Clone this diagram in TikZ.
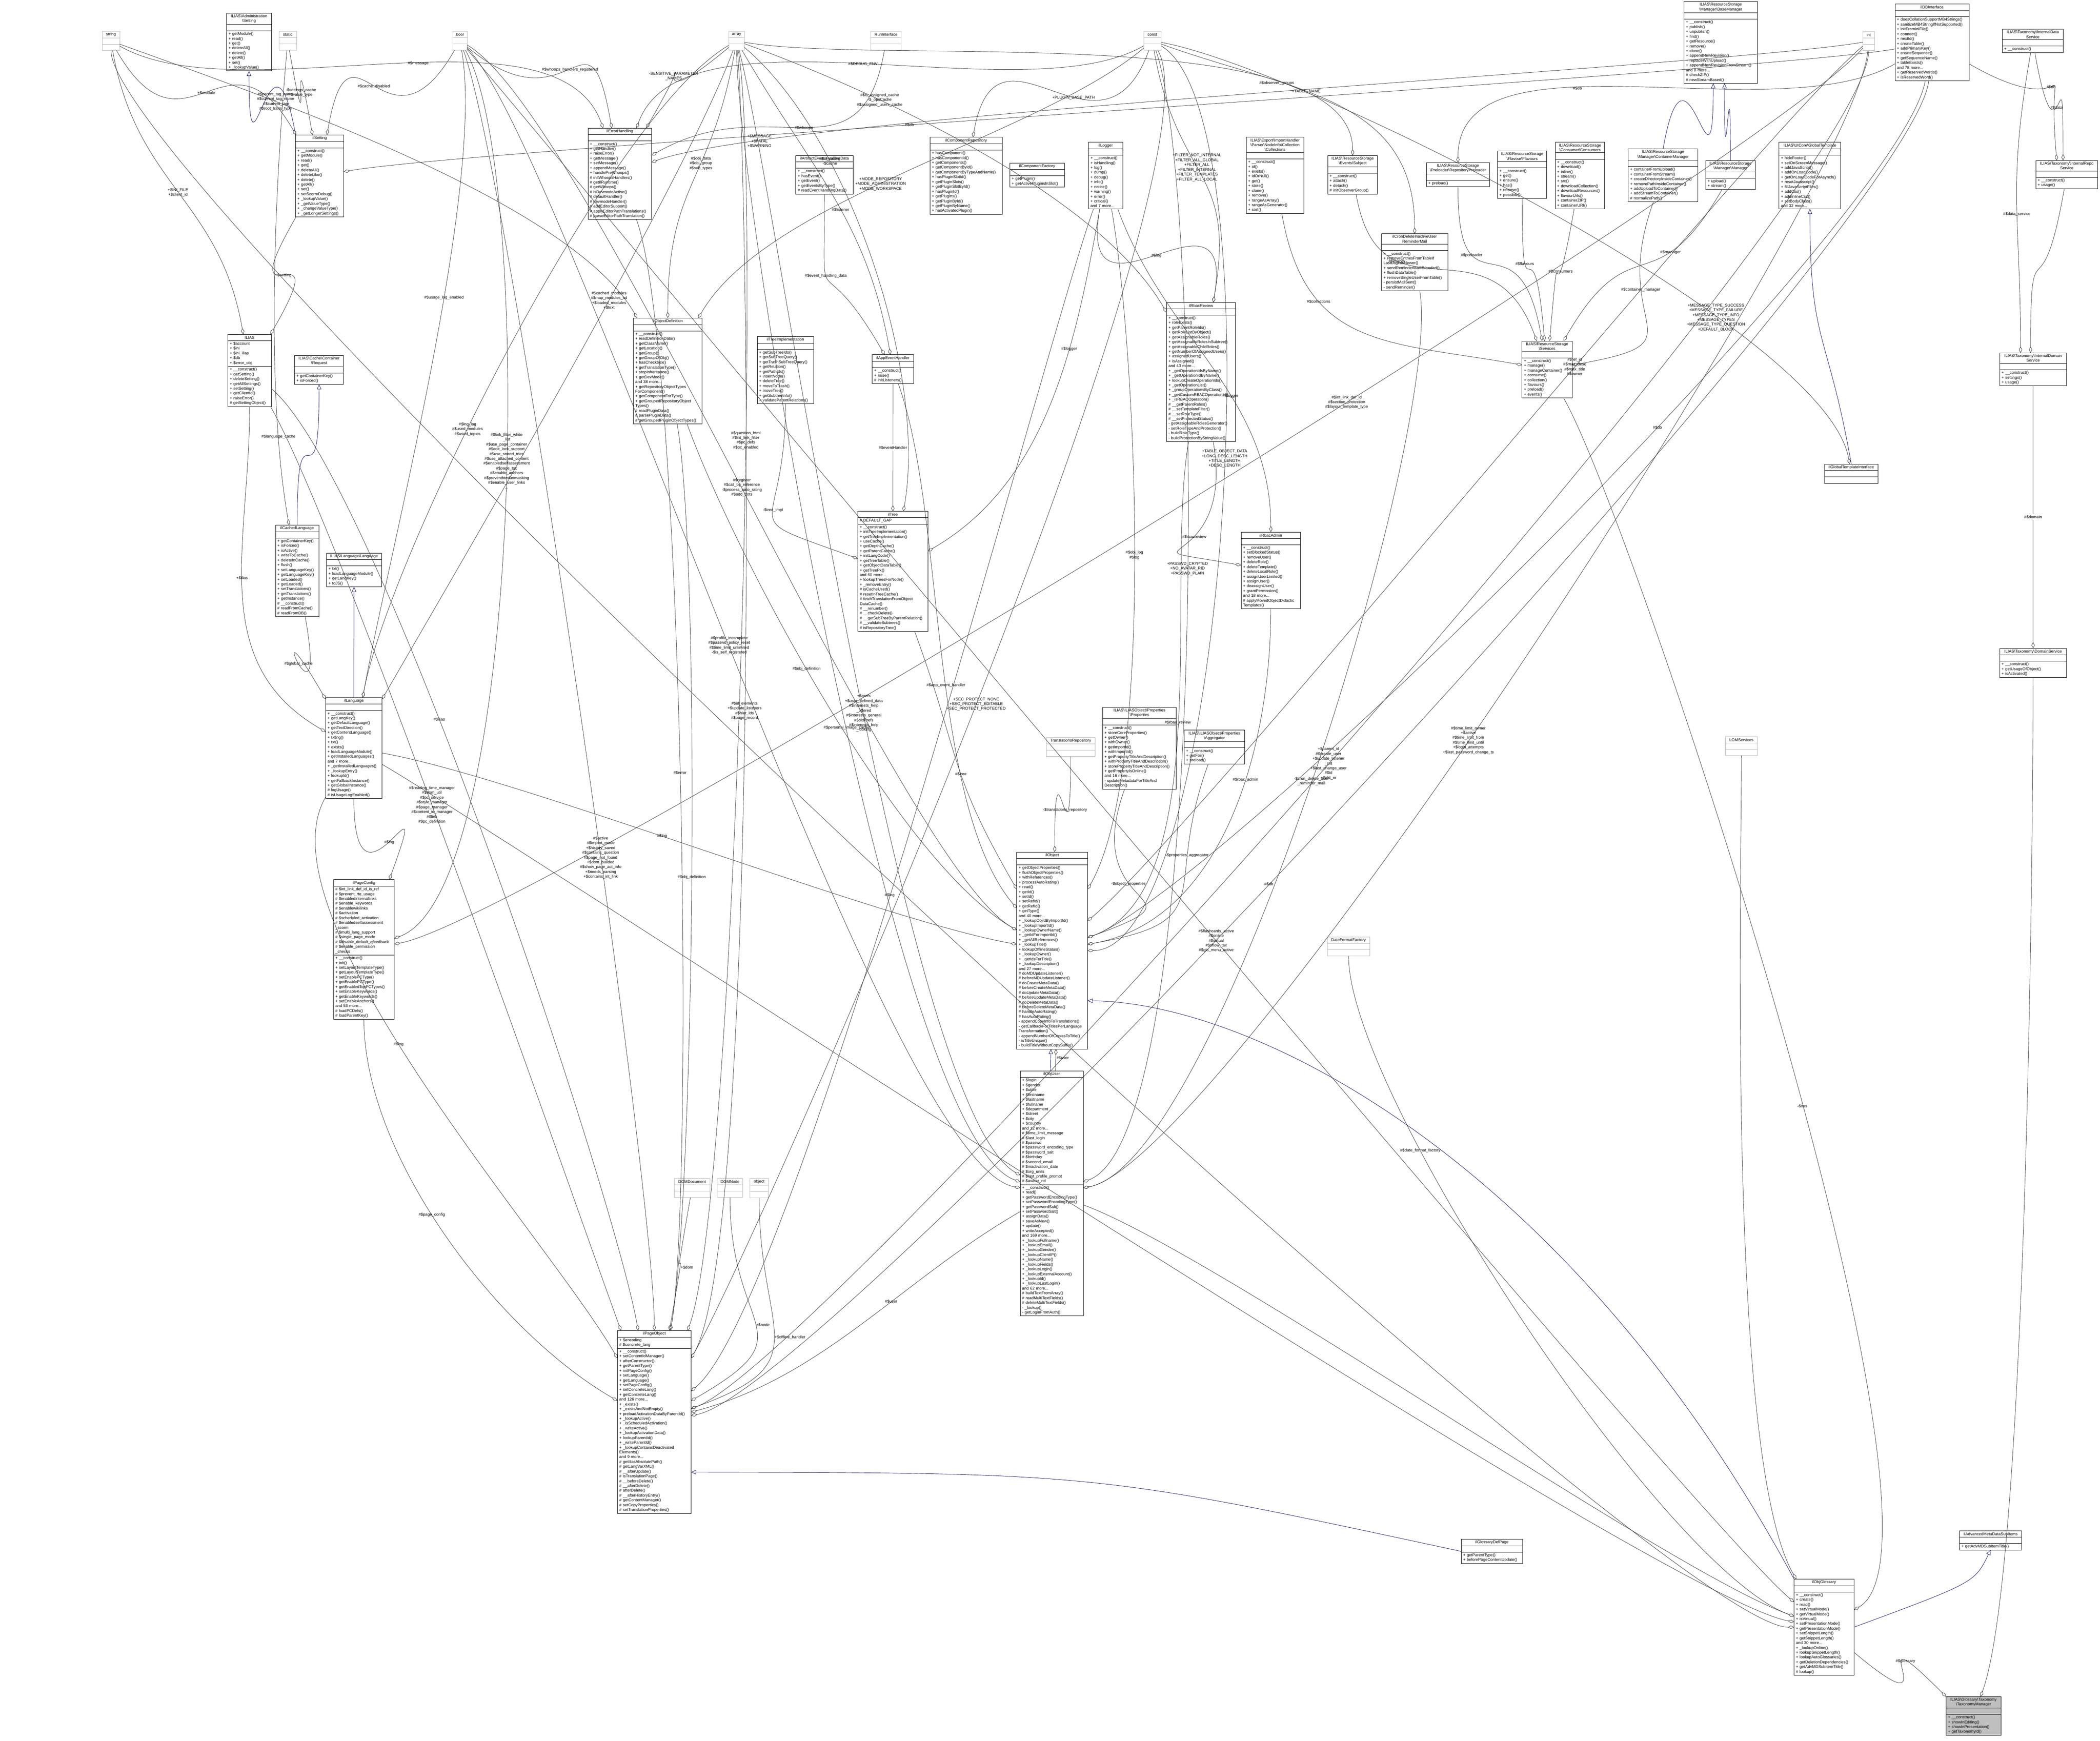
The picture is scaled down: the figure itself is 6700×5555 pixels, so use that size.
\documentclass[tikz,border=0pt]{standalone}
\usepackage{fontspec}
\setmainfont{Liberation Sans}
\usetikzlibrary{shapes.multipart,fit,arrows.meta}
\definecolor{navy}{RGB}{25,25,112}
\definecolor{edgec}{RGB}{64,64,64}
\newcommand\bs{\textbackslash}
\newcommand\e{\vphantom{Ag}}
\newcommand\f{\fontsize{0.64}{0.766}\selectfont}
\tikzset{
 part/.style={draw=black,outer sep=0pt,inner xsep=0.3pt,inner ysep=0.22pt,anchor=north west,font=\f,line width=0.06pt},
 ttl/.style={part,align=center},
 prt/.style={part,align=left},
 gbox/.style={draw=gray!55},
 selbox/.style={fill=gray!50},
 agg/.style={draw=edgec,line width=0.06pt,distance=22pt,-{Diamond[open,length=1pt,width=0.52pt]}},
 inh/.style={draw=navy,line width=0.06pt,distance=22pt,-{Triangle[open,length=0.8pt,width=0.7pt]}},
 lbl/.style={font=\f,align=center,inner sep=0.1pt}
}
\newcommand\uml[7][]{%
 \pgfmathsetmacro\tw{#4/20-0.6}%
 \node[ttl,#1,text width=\tw pt] (#2-t) at (#3) {#5};
 \node[prt,#1,text width=\tw pt] (#2-a) at (#2-t.south west) {#6};
 \node[prt,#1,text width=\tw pt] (#2-m) at (#2-a.south west) {#7};
 \node[fit=(#2-t)(#2-m),inner sep=0pt,outer sep=0pt] (#2) {};}
\begin{document}
\begin{tikzpicture}[x=0.05pt,y=-0.05pt]
\useasboundingbox (0,0) rectangle (6700,5555);
% ---------- type boxes ----------
\uml[gbox]{string}{326,100}{56}{string}{\e}{\e}
\uml[gbox]{static}{890,100}{56}{static}{\e}{\e}
\uml[gbox]{bool}{1445,100}{45}{bool}{\e}{\e}
\uml[gbox]{array}{2325,100}{50}{array}{\e}{\e}
\uml[gbox]{run}{2779,100}{96}{RunInterface}{\e}{\e}
\uml[gbox]{const}{3649,100}{55}{const}{\e}{\e}
\uml[gbox]{int}{5943,101}{38}{int}{\e}{\e}
\uml[gbox]{trans}{3338,2353}{156}{TranslationsRepository}{\e}{\e}
\uml[gbox]{dff}{4235,2990}{135}{DateFormatFactory}{\e}{\e}
\uml[gbox]{lom}{5505,2351}{102}{LOMServices}{\e}{\e}
\uml[gbox]{domdoc}{2151,3761}{114}{DOMDocument}{\e}{\e}
\uml[gbox]{domnode}{2288,3761}{82}{DOMNode}{\e}{\e}
\uml[gbox]{object}{2393,3761}{58}{object}{\e}{\e}
% ---------- classes ----------
\uml{adms}{723,42}{143}{ILIAS\bs Administration\\\bs Setting}{\e}{+ getModule()\\+ read()\\+ get()\\+ deleteAll()\\+ delete()\\+ getAll()\\+ set()\\+ \_lookupValue()}
\uml{ilset}{943,431}{154}{ilSetting}{\e}{+ \_\_construct()\\+ getModule()\\+ read()\\+ get()\\+ deleteAll()\\+ deleteLike()\\+ delete()\\+ getAll()\\+ set()\\+ setScormDebug()\\+ \_lookupValue()\\+ \_getValueType()\\+ \_changeValueType()\\+ \_getLongerSettings()}
\uml{err}{1876,409}{203}{ilErrorHandling}{\e}{+ \_\_construct()\\+ getHandler()\\+ raiseError()\\+ getMessage()\\+ setMessage()\\+ appendMessage()\\+ handlePreWhoops()\\\# initWhoopsHandlers()\\\# getIlRuntime()\\\# getWhoops()\\\# isDevmodeActive()\\\# defaultHandler()\\\# devmodeHandler()\\\# addEditorSupport()\\\# applyEditorPathTranslations()\\\# parseEditorPathTranslation()}
\uml{artif}{2539,496}{183}{ilArtifactEventHandlingData}{\e}{+ \_\_construct()\\+ hasEvent()\\+ getEvent()\\+ getEventsByType()\\\# readEventHandlingData()}
\uml{comprep}{2967,438}{231}{ilComponentRepository}{\e}{+ hasComponent()\\+ hasComponentId()\\+ getComponents()\\+ getComponentById()\\+ getComponentByTypeAndName()\\+ hasPluginSlotId()\\+ getPluginSlots()\\+ getPluginSlotById()\\+ hasPluginId()\\+ getPlugins()\\+ getPluginById()\\+ getPluginByName()\\+ hasActivatedPlugin()}
\uml{compfac}{3222,520}{174}{ilComponentFactory}{\e}{+ getPlugin()\\+ getActivePluginsInSlot()}
\uml{logger}{3473,454}{109}{ilLogger}{\e}{+ \_\_construct()\\+ isHandling()\\+ log()\\+ dump()\\+ debug()\\+ info()\\+ notice()\\+ warning()\\+ error()\\+ critical()\\and 7 more...}
\uml{coll}{3976,438}{184}{ILIAS\bs Export\bs ImportHandler\\\bs Parser\bs NodeInfo\bs Collection\\\bs Collections}{\e}{+ \_\_construct()\\+ id()\\+ exists()\\+ idOrNull()\\+ get()\\+ store()\\+ clone()\\+ remove()\\+ rangeAsArray()\\+ rangeAsGenerator()\\+ sort()}
\uml{subj}{4236,496}{159}{ILIAS\bs ResourceStorage\\\bs Events\bs Subject}{\e}{+ \_\_construct()\\+ attach()\\+ detach()\\\# initObserverGroup()}
\uml{basem}{5373,5}{234}{ILIAS\bs ResourceStorage\\\bs Manager\bs BaseManager}{\e}{+ \_\_construct()\\+ publish()\\+ unpublish()\\+ find()\\+ getResource()\\+ remove()\\+ clone()\\+ appendNewRevision()\\+ replaceWithUpload()\\+ appendNewRevisionFromStream()\\and 8 more...\\\# checkZIP()\\\# newStreamBased()}
\uml{db}{6046,13}{236}{ilDBInterface}{\e}{+ doesCollationSupportMB4Strings()\\+ sanitizeMB4StringIfNotSupported()\\+ initFromIniFile()\\+ connect()\\+ nextId()\\+ createTable()\\+ addPrimaryKey()\\+ createSequence()\\+ getSequenceName()\\+ tableExists()\\and 78 more...\\+ getReservedWords()\\+ isReservedWord()}
\uml{idata}{6388,93}{195}{ILIAS\bs Taxonomy\bs InternalData\\Service}{\e}{+ \_\_construct()}
\uml{prel}{4551,519}{201}{ILIAS\bs ResourceStorage\\\bs Preloader\bs RepositoryPreloader}{\e}{+ preload()}
\uml{flav}{4778,482}{157}{ILIAS\bs ResourceStorage\\\bs Flavour\bs Flavours}{\e}{+ \_\_construct()\\+ get()\\+ ensure()\\+ has()\\+ remove()\\+ possible()}
\uml{cons}{4962,454}{158}{ILIAS\bs ResourceStorage\\\bs Consumer\bs Consumers}{\e}{+ \_\_construct()\\+ download()\\+ inline()\\+ stream()\\+ src()\\+ downloadCollection()\\+ downloadResources()\\+ flavourUrls()\\+ containerZIP()\\+ containerURI()}
\uml{contm}{5195,475}{222}{ILIAS\bs ResourceStorage\\\bs Manager\bs ContainerManager}{\e}{+ containerFromUpload()\\+ containerFromStream()\\+ createDirectoryInsideContainer()\\+ removePathInsideContainer()\\+ addUploadToContainer()\\+ addStreamToContainer()\\\# normalizePath()}
\uml{mgr}{5442,512}{158}{ILIAS\bs ResourceStorage\\\bs Manager\bs Manager}{\e}{+ upload()\\+ stream()}
\uml{gtpl}{5676,454}{197}{ILIAS\bs UICore\bs GlobalTemplate}{\e}{+ hideFooter()\\+ setOnScreenMessage()\\+ addJavaScript()\\+ addOnLoadCode()\\+ getOnLoadCodeForAsynch()\\+ resetJavascript()\\+ fillJavaScriptFiles()\\+ addCss()\\+ addInlineCss()\\+ setBodyClass()\\and 32 more...}
\uml{irepo}{6495,512}{198}{ILIAS\bs Taxonomy\bs InternalRepo\\Service}{\e}{+ \_\_construct()\\+ usage()}
\uml{rbrev}{3722,965}{219}{ilRbacReview}{\e}{+ \_\_construct()\\+ roleExists()\\+ getParentRoleIds()\\+ getRoleListByObject()\\+ getAssignableRoles()\\+ getAssignableRolesInSubtree()\\+ getAssignableChildRoles()\\+ getNumberOfAssignedUsers()\\+ assignedUsers()\\+ isAssigned()\\and 43 more...\\+ \_getOperationIdsByName()\\+ \_getOperationIdByName()\\+ lookupCreateOperationIds()\\+ \_getOperationList()\\+ \_groupOperationsByClass()\\+ \_getCustomRBACOperationId()\\+ \_isRBACOperation()\\\# \_\_getParentRoles()\\\# \_\_setTemplateFilter()\\\# \_\_setRoleType()\\\# \_\_setProtectedStatus()\\- getAssignableRolesGenerator()\\- setRoleTypeAndProtection()\\- buildRoleType()\\- buildProtectionByStringValue()}
\uml{cron}{4408,746}{211}{ilCronDeleteInactiveUser\\ReminderMail}{\e}{+ \_\_construct()\\+ removeEntriesFromTableIf\\LastLoginIsNewer()\\+ sendReminderMailIfNeeded()\\+ flushDataTable()\\+ removeSingleUserFromTable()\\- persistMailSent()\\- sendReminder()}
\uml{serv}{4856,1088}{160}{ILIAS\bs ResourceStorage\\\bs Services}{\e}{+ \_\_construct()\\+ manage()\\+ manageContainer()\\+ consume()\\+ collection()\\+ flavours()\\+ preload()\\+ events()}
\uml{rbadm}{3960,1698}{189}{ilRbacAdmin}{\e}{+ \_\_construct()\\+ setBlockedStatus()\\+ removeUser()\\+ deleteRole()\\+ deleteTemplate()\\+ deleteLocalRole()\\+ assignUserLimited()\\+ assignUser()\\+ deassignUser()\\+ grantPermission()\\and 18 more...\\\# applyMovedObjectDidactic\\Templates()}
\uml{ilias}{727,1067}{139}{ILIAS}{+ \$account\\+ \$ini\\+ \$ini\_ilias\\+ \$db\\+ \$error\_obj}{+ \_\_construct()\\+ getSetting()\\+ deleteSetting()\\+ getAllSettings()\\+ setSetting()\\+ getClientId()\\+ raiseError()\\\# getSettingObject()}
\uml{req}{940,1134}{156}{ILIAS\bs Cache\bs Container\\\bs Request}{\e}{+ getContainerKey()\\+ isForced()}
\uml{clang}{879,1676}{138}{ilCachedLanguage}{\e}{+ getContainerKey()\\+ isForced()\\+ isActive()\\+ writeToCache()\\+ deleteInCache()\\+ flush()\\+ setLanguageKey()\\+ getLanguageKey()\\+ setLoaded()\\+ getLoaded()\\+ setTranslations()\\+ getTranslations()\\+ getInstance()\\\# \_\_construct()\\\# readFromCache()\\\# readFromDB()}
\uml{langi}{1042,1765}{175}{ILIAS\bs Language\bs Language}{\e}{+ txt()\\+ loadLanguageModule()\\+ getLangKey()\\+ toJS()}
\uml{lang}{1039,2226}{180}{ilLanguage}{\e}{+ \_\_construct()\\+ getLangKey()\\+ getDefaultLanguage()\\+ getTextDirection()\\+ getContentLanguage()\\+ txtlng()\\+ txt()\\+ exists()\\+ loadLanguageModule()\\+ getInstalledLanguages()\\and 7 more...\\+ \_getInstalledLanguages()\\+ \_lookupEntry()\\+ lookupId()\\+ getFallbackInstance()\\+ getGlobalInstance()\\\# logUsage()\\\# isUsageLogEnabled()}
\uml{objdef}{2021,1015}{219}{ilObjectDefinition}{\e}{+ \_\_construct()\\+ readDefinitionData()\\+ getClassName()\\+ getLocation()\\+ getGroup()\\+ getGroupOfObj()\\+ hasCheckbox()\\+ getTranslationType()\\+ stopInheritance()\\+ getDevMode()\\and 38 more...\\+ getRepositoryObjectTypes\\ForComponent()\\+ getComponentForType()\\+ getGroupedRepositoryObject\\Types()\\\# readPluginData()\\\# parsePluginData()\\\# getGroupedPluginObjectTypes()}
\uml{treeimpl}{2416,1074}{180}{ilTreeImplementation}{\e}{+ getSubTreeIds()\\+ getSubTreeQuery()\\+ getTrashSubTreeQuery()\\+ getRelation()\\+ getPathIds()\\+ insertNode()\\+ deleteTree()\\+ moveToTrash()\\+ moveTree()\\+ getSubtreeInfo()\\+ validateParentRelations()}
\uml{appev}{2783,1132}{132}{ilAppEventHandler}{\e}{+ \_\_construct()\\+ raise()\\\# initListeners()}
\uml{tree}{2737,1632}{223}{ilTree}{\# DEFAULT\_GAP}{+ \_\_construct()\\+ initTreeImplementation()\\+ getTreeImplementation()\\+ useCache()\\+ getDepthCache()\\+ getParentCache()\\+ initLangCode()\\+ getTreeTable()\\+ getObjectDataTable()\\+ getTreePk()\\and 60 more...\\+ lookupTreesForNode()\\+ \_removeEntry()\\\# isCacheUsed()\\\# resetInTreeCache()\\\# fetchTranslationFromObject\\DataCache()\\\# \_\_renumber()\\\# \_\_checkDelete()\\\# \_\_getSubTreeByParentRelation()\\\# \_\_validateSubtrees()\\\# isRepositoryTree()}
\uml{props}{3518,2257}{235}{ILIAS\bs ILIASObject\bs Properties\\\bs Properties}{\e}{+ \_\_construct()\\+ storeCoreProperties()\\+ getOwner()\\+ withOwner()\\+ getImportId()\\+ withImportId()\\+ getPropertyTitleAndDescription()\\+ withPropertyTitleAndDescription()\\+ storePropertyTitleAndDescription()\\+ getPropertyIsOnline()\\and 16 more...\\- updateMetadataForTitleAnd\\Description()}
\uml{aggr}{3778,2330}{193}{ILIAS\bs ILIASObject\bs Properties\\\bs Aggregator}{\e}{+ \_\_construct()\\+ getFor()\\+ preload()}
\uml{obj}{3244,2719}{226}{ilObject}{\e}{+ getObjectProperties()\\+ flushObjectProperties()\\+ withReferences()\\+ processAutoRating()\\+ read()\\+ getId()\\+ setId()\\+ setRefId()\\+ getRefId()\\+ getType()\\and 40 more...\\+ \_lookupObjIdByImportId()\\+ \_lookupImportId()\\+ \_lookupOwnerName()\\+ \_getIdForImportId()\\+ \_getAllReferences()\\+ \_lookupTitle()\\+ lookupOfflineStatus()\\+ \_lookupOwner()\\+ \_getIdsForTitle()\\+ \_lookupDescription()\\and 27 more...\\\# doMDUpdateListener()\\\# beforeMDUpdateListener()\\\# doCreateMetaData()\\\# beforeCreateMetaData()\\\# doUpdateMetaData()\\\# beforeUpdateMetaData()\\\# doDeleteMetaData()\\\# beforeDeleteMetaData()\\\# handleAutoRating()\\\# hasAutoRating()\\- appendCopyInfoToTranslations()\\- getCallbackForTitlesPerLanguage\\Transformation()\\- appendNumberOfCopiesToTitle()\\- isTitleUnique()\\- buildTitleWithoutCopySuffix()}
\uml{user}{3255,3417}{201}{ilObjUser}{+ \$login\\+ \$gender\\+ \$utitle\\+ \$firstname\\+ \$lastname\\+ \$fullname\\+ \$department\\+ \$street\\+ \$city\\+ \$country\\and 12 more...\\\# \$time\_limit\_message\\\# \$last\_login\\\# \$passwd\\\# \$password\_encoding\_type\\\# \$password\_salt\\\# \$birthday\\\# \$second\_email\\\# \$inactivation\_date\\\# \$org\_units\\\# \$last\_profile\_prompt\\\# \$avatar\_rid}{+ \_\_construct()\\+ read()\\+ getPasswordEncodingType()\\+ setPasswordEncodingType()\\+ getPasswordSalt()\\+ setPasswordSalt()\\+ assignData()\\+ saveAsNew()\\+ update()\\+ writeAccepted()\\and 169 more...\\+ \_lookupFullname()\\+ \_lookupEmail()\\+ \_lookupGender()\\+ \_lookupClientIP()\\+ \_lookupName()\\+ \_lookupFields()\\+ \_lookupLogin()\\+ \_lookupExternalAccount()\\+ \_lookupId()\\+ \_lookupLastLogin()\\and 62 more...\\\# buildTextFromArray()\\\# readMultiTextFields()\\\# deleteMultiTextFields()\\- \_lookup()\\- getLoginFromAuth()}
\uml{pcfg}{1064,2807}{194}{ilPageConfig}{\# \$int\_link\_def\_id\_is\_ref\\\# \$prevent\_rte\_usage\\\# \$enabledinternallinks\\\# \$enable\_keywords\\\# \$enablewikilinks\\\# \$activation\\\# \$scheduled\_activation\\\# \$enabledselfassessment\\\_scorm\\\# \$multi\_lang\_support\\\# \$single\_page\_mode\\\# \$disable\_default\_qfeedback\\\# \$enable\_permission\\\_checks}{+ \_\_construct()\\+ init()\\+ setLayoutTemplateType()\\+ getLayoutTemplateType()\\+ setEnablePCType()\\+ getEnablePCType()\\+ getEnabledTopPCTypes()\\+ setEnableKeywords()\\+ getEnableKeywords()\\+ setEnableAnchors()\\and 53 more...\\\# loadPCDefs()\\\# loadParentKey()}
\uml{page}{1970,4246}{235}{ilPageObject}{+ \$encoding\\\# \$concrete\_lang}{+ \_\_construct()\\+ setContentIdManager()\\+ afterConstructor()\\+ getParentType()\\+ initPageConfig()\\+ setLanguage()\\+ getLanguage()\\+ setPageConfig()\\+ setConcreteLang()\\+ getConcreteLang()\\and 126 more...\\+ \_exists()\\+ \_existsAndNotEmpty()\\+ preloadActivationDataByParentId()\\+ \_lookupActive()\\+ \_isScheduledActivation()\\+ \_writeActive()\\+ \_lookupActivationData()\\+ lookupParentId()\\+ \_writeParentId()\\+ \_lookupContainsDeactivated\\Elements()\\and 9 more...\\\# getIliasAbsolutePath()\\\# getLangVarXML()\\\# \_\_afterUpdate()\\\# isTranslationPage()\\\# \_\_beforeDelete()\\\# \_\_afterDelete()\\\# afterDelete()\\\# \_\_afterHistoryEntry()\\\# getContentManager()\\\# setCopyProperties()\\\# setTranslationProperties()}
\uml{gtif}{5821,1481}{171}{ilGlobalTemplateInterface}{\e}{\e}
\uml{idom}{6380,1126}{213}{ILIAS\bs Taxonomy\bs InternalDomain\\Service}{\e}{+ \_\_construct()\\+ settings()\\+ usage()}
\uml{dom}{6380,2069}{213}{ILIAS\bs Taxonomy\bs DomainService}{\e}{+ \_\_construct()\\+ getUsageOfObject()\\+ isActivated()}
\uml{gdp}{4662,4912}{196}{ilGlossaryDefPage}{\e}{+ getParentType()\\+ beforePageContentUpdate()}
\uml{amd}{6252,4885}{198}{ilAdvancedMetaDataSubItems}{\e}{+ getAdvMDSubItemTitle()}
\uml{glo}{5724,5039}{191}{ilObjGlossary}{\e}{+ \_\_construct()\\+ create()\\+ read()\\+ setVirtualMode()\\+ getVirtualMode()\\+ isVirtual()\\+ setPresentationMode()\\+ getPresentationMode()\\+ setSnippetLength()\\+ getSnippetLength()\\and 30 more...\\+ \_lookupOnline()\\+ lookupSnippetLength()\\+ lookupAutoGlossaries()\\+ getDeletionDependencies()\\+ getAdvMDSubItemTitle()\\\# lookup()}
\uml[selbox]{taxm}{6209,5414}{175}{ILIAS\bs Glossary\bs Taxonomy\\\bs TaxonomyManager}{\e}{+ \_\_construct()\\+ showInEditing()\\+ showInPresentation()\\+ getTaxonomyId()}
% ---------- inheritance ----------
\draw[inh] (ilset-t.north west) to[out=100,in=-90] (adms.south);
\draw[inh] (clang.north) to[out=90,in=-90] (req.south);
\draw[inh] (lang.north) to[out=90,in=-90] (langi.south);
\draw[inh] (contm.north) to[out=80,in=-90] ([xshift=-1.2pt]basem.south);
\draw[inh] (mgr.north) to[out=90,in=-90] ([xshift=0.6pt]basem.south);
\draw[inh] (gtif.north) to[out=100,in=-90] (gtpl.south);
\draw[inh] ([xshift=-0.2pt]user.north) -- ([xshift=-0.2pt]obj.south);
\draw[inh] (glo.north west) .. controls (5000,3700) and (4000,3200) .. ([yshift=-8pt]obj.east);
\draw[inh] (glo.east) .. controls (6300,5050) .. (amd.south);
\draw[inh] (gdp.west) .. controls (3500,4700) .. ([yshift=-8pt]page.east);
% ---------- aggregations ----------
\draw[agg] (string) to[out=-60,in=120] node[lbl]{+\$module} (ilset);
\draw[agg] (static) to[out=-80,in=100] node[lbl]{-\$settings\_cache\\-\$value\_type} (ilset);
\draw[agg] (bool) to[out=-120,in=80] node[lbl]{\#\$cache\_disabled} (ilset);
\draw[agg] (string) to[out=-30,in=110] node[lbl,pos=0.55]{\#\$message} (err);
\draw[agg] (bool) to[out=-40,in=100] node[lbl]{\#\$whoops\_handlers\_registered} (err);
\draw[agg] (const) to[out=-150,in=70] node[lbl,pos=0.5]{\#\$DEBUG\_ENV} (err);
\draw[agg] (array) to[out=-140,in=60] node[lbl]{-SENSITIVE\_PARAMETER\\\_NAMES} (err);
\draw[agg] (run) to[out=-100,in=30] node[lbl]{\#\$whoops} (err);
\draw[agg] (int) to[out=-170,in=20] node[lbl,pos=0.85]{+\$MESSAGE\\+\$FATAL\\+\$WARNING} (err);
\draw[agg] (ilset) to[out=-120,in=60] node[lbl]{+\$setting} (ilias);
\draw[agg] (string) to[out=-80,in=100] node[lbl]{+\$INI\_FILE\\+\$client\_id} (ilias);
\draw[agg] (string) to[out=-20,in=120] node[lbl,pos=0.3]{\#\$parent\_tag\_name\\\#\$current\_tag\_name\\\#\$current\_tag\\\#\$root\_trans\_type} (objdef);
\draw[agg] (array) to[out=-100,in=90] node[lbl,pos=0.4]{\#\$obj\_data\\\#\$obj\_group\\\#\$sub\_types} (objdef);
\draw[agg] (array) to[out=-20,in=120] node[lbl,pos=0.3]{\#\$is\_assigned\_cache\\-\$\_opsCache\\\#\$assigned\_users\_cache} (rbrev);
\draw[agg] (artif) to[out=-90,in=120] node[lbl,pos=0.4]{\#\$event\_handling\_data} (appev);
\draw[agg] (array) to[out=-60,in=100] node[lbl,pos=0.55]{\#\$listener} (appev);
\draw[agg] (db) to[out=-170,in=10] node[lbl,pos=0.6]{\#\$db} (ilset);
\draw[agg] (array) to[out=-40,in=80] node[lbl,pos=0.3]{-\$id\_cache\\-\$cache} (tree);
\draw[agg] (const) to[out=-110,in=80] node[lbl,pos=0.4]{+PLUGIN\_BASE\_PATH} (comprep);
\draw[agg] (const) to[out=-140,in=60] node[lbl,pos=0.55]{+MODE\_REPOSITORY\\+MODE\_ADMINISTRATION\\+MODE\_WORKSPACE} (objdef);
\draw[agg] (const) to[out=-80,in=80] node[lbl,pos=0.45]{+FILTER\_NOT\_INTERNAL\\+FILTER\_ALL\_GLOBAL\\+FILTER\_ALL\\+FILTER\_INTERNAL\\+FILTER\_TEMPLATES\\+FILTER\_ALL\_LOCAL} (rbrev);
\draw[agg] (array) to[out=-10,in=90] node[lbl,pos=0.75]{\#\$observer\_groups} (subj);
\draw[agg] (const) to[out=-20,in=90] node[lbl,pos=0.4]{+TABLE\_NAME} (cron);
\draw[agg] (const) to[out=-10,in=100] node[lbl,pos=0.7]{+MESSAGE\_TYPE\_SUCCESS\\+MESSAGE\_TYPE\_FAILURE\\+MESSAGE\_TYPE\_INFO\\+MESSAGE\_TYPES\\+MESSAGE\_TYPE\_QUESTION\\+DEFAULT\_BLOCK} (gtif);
\draw[agg] (db) to[out=-30,in=95] node[lbl,pos=0.45]{\#\$db} ([xshift=-1.6pt]irepo.north);
\draw[agg] (idata) to[out=-80,in=90] node[lbl,pos=0.45]{\#\$data} ([xshift=-0.6pt]irepo.north);
\draw[agg] (db) to[out=-150,in=90] node[lbl,pos=0.6]{\#\$db} (prel);
\draw[agg] (idata) to[out=-100,in=90] node[lbl,pos=0.55]{\#\$data\_service} ([xshift=-2pt]idom.north);
\draw[agg] (irepo) to[out=-100,in=90] ([xshift=-0.4pt]idom.north);
\draw[agg] (idom) -- node[lbl,fill=white]{\#\$domain} (dom);
\draw[agg] (dom) to[out=-90,in=70] (taxm);
\draw[agg] (glo) to[out=-40,in=135] node[lbl,pos=0.75]{\#\$glossary} (taxm.north west);
\draw[agg] (logger) to[out=-100,in=80] node[lbl,pos=0.5]{\#\$log} (rbrev);
\draw[agg] (coll) to[out=-80,in=170] node[lbl,pos=0.3]{\#\$collections} (serv);
\draw[agg] (subj) to[out=-80,in=110] node[lbl,pos=0.3]{\#\$events} (serv);
\draw[agg] (prel) to[out=-90,in=100] node[lbl,pos=0.3]{\#\$preloader} (serv);
\draw[agg] (flav) to[out=-90,in=95] node[lbl,pos=0.3]{\#\$flavours} (serv);
\draw[agg] (cons) to[out=-100,in=85] node[lbl,pos=0.3]{\#\$consumers} (serv);
\draw[agg] (contm) to[out=-110,in=10] node[lbl,pos=0.3]{\#\$container\_manager} (serv);
\draw[agg] (mgr) to[out=-120,in=60] node[lbl,pos=0.3]{\#\$manager} (serv);
\draw[agg] (logger) to[out=-70,in=90] node[lbl,pos=0.6]{\#\$logger} (rbadm);
\draw[agg] (rbrev) to[out=-80,in=170] node[lbl,pos=0.4]{\#\$rbacreview} (rbadm);
\draw[agg] (rbrev) to[out=-100,in=20] node[lbl,pos=0.5]{\#\$rbac\_review} (obj);
\draw[agg] (rbadm) to[out=-90,in=10] node[lbl,pos=0.4]{\#\$rbac\_admin} (obj);
\draw[agg] (cron) to[out=-80,in=10] node[lbl,pos=0.5]{-\$cron\_delete\_user\\\_reminder\_mail} (user);
\draw[agg] (int) to[out=-130,in=10] node[lbl,pos=0.4]{\#\$int\_link\_def\_id\\\#\$section\_protection\\\#\$layout\_template\_type} (pcfg);
\draw[agg] (const) to[out=-30,in=0] node[lbl,pos=0.45]{+TABLE\_OBJECT\_DATA\\+LONG\_DESC\_LENGTH\\+TITLE\_LENGTH\\+DESC\_LENGTH} (obj);
\draw[agg] (const) to[out=-70,in=20] node[lbl,pos=0.45]{+PASSWD\_CRYPTED\\+NO\_AVATAR\_RID\\+PASSWD\_PLAIN} (user);
\draw[agg] (array) to[out=-150,in=80] node[lbl,pos=0.6]{\#\$lng\_log\\\#\$used\_modules\\\#\$used\_topics} (lang);
\draw[agg] (bool) to[out=-80,in=80] node[lbl,pos=0.4]{\#\$usage\_log\_enabled} (lang);
\draw[agg] (array) to[out=-110,in=60] node[lbl,pos=0.4]{\#\$cached\_modules\\\#\$map\_modules\_txt\\+\$loaded\_modules\\+\$text} (lang);
\draw[agg] (static) to[out=-95,in=100] node[lbl,pos=0.8]{\#\$language\_cache} (clang);
\draw[agg] (clang) to[out=-80,in=120] node[lbl]{\#\$global\_cache} (lang);
\draw[agg] (ilias) to[out=-90,in=150] node[lbl,pos=0.45]{+\$ilias} (lang);
\draw[agg] (bool) to[out=-60,in=20] node[lbl,pos=0.45]{\#\$link\_filter\_white\\\_list\\\#\$use\_page\_container\\\#\$edit\_lock\_support\\\#\$use\_stored\_tries\\\#\$use\_attached\_content\\\#\$enabledselfassessment\\\#\$page\_toc\\\#\$enable\_anchors\\\#\$preventhtmlunmasking\\\#\$enable\_user\_links\\...} (pcfg);
\draw[agg] (array) to[out=-80,in=70] node[lbl,pos=0.35]{\#\$question\_html\\\#\$int\_link\_filter\\\#\$pc\_defs\\\#\$pc\_enabled} (page);
\draw[agg] (bool) to[out=-30,in=150] node[lbl,pos=0.5]{\#\$register\\\#\$call\_by\_reference\\-\$process\_auto\_rating\\\#\$add\_dots} (obj);
\draw[agg] (array) to[out=-90,in=160] node[lbl,pos=0.55]{\#\$personal\_image\_cache} (user);
\draw[agg] (bool) to[out=-45,in=170] node[lbl,pos=0.5]{\#\$profile\_incomplete\\\#\$passwd\_policy\_reset\\\#\$time\_limit\_unlimited\\-\$is\_self\_registered} (user);
\draw[agg] (ilias) to[out=-40,in=100] node[lbl,pos=0.4]{\#\$ilias} (page);
\draw[agg] (bool) to[out=-70,in=90] node[lbl,pos=0.6]{\#\$active\\\#\$import\_mode\\+\$history\_saved\\\#\$contains\_question\\\#\$page\_not\_found\\+\$dom\_builded\\\#\$show\_page\_act\_info\\+\$needs\_parsing\\+\$contains\_int\_link} (page);
\draw[agg] (array) to[out=-85,in=60] node[lbl,pos=0.5]{\#\$id\_elements\\+\$update\_listeners\\\#\$hier\_ids\\\#\$page\_record} (page);
\draw[agg] (treeimpl) to[out=-90,in=160] node[lbl,pos=0.45]{-\$tree\_impl} (tree);
\draw[agg] (appev) -- node[lbl,fill=white]{\#\$eventHandler} (tree);
\draw[agg] (logger) to[out=-100,in=30] node[lbl,pos=0.35]{\#\$logger} (tree);
\draw[agg] (const) to[out=-60,in=60] node[lbl,pos=0.5]{+SEC\_PROTECT\_NONE\\+SEC\_PROTECT\_EDITABLE\\+SEC\_PROTECT\_PROTECTED} (page);
\draw[agg] (array) to[out=-75,in=150] node[lbl,pos=0.55]{+\$prefs\\+\$user\_defined\_data\\\#\$interests\_help\\\_offered\\\#\$interests\_general\\\#\$oldPrefs\\\#\$interests\_help\\\_looking} (user);
\draw[agg] (err) to[out=-70,in=80] node[lbl,pos=0.5]{\#\$error} (page);
\draw[agg] (logger) to[out=-80,in=60] node[lbl,pos=0.5]{\#\$obj\_log\\\#\$log} (obj);
\draw[agg] (logger) to[out=-110,in=40] node[lbl,pos=0.55]{\#\$log} (page);
\draw[agg] (objdef) to[out=-70,in=150] node[lbl,pos=0.45]{\#\$obj\_definition} (obj);
\draw[agg] (appev) to[out=-70,in=130] node[lbl,pos=0.55]{\#\$app\_event\_handler} (obj);
\draw[agg] (tree) to[out=-70,in=120] node[lbl,pos=0.55]{\#\$tree} (obj);
\draw[agg] (int) to[out=-140,in=40] node[lbl,pos=0.4]{\#\$ref\_id\\\#\$max\_desc\\\#\$max\_title\\\#\$owner} (obj);
\draw[agg] (db) to[out=-100,in=20] node[lbl,pos=0.4]{\#\$db} (obj);
\draw[agg] (int) to[out=-95,in=10] node[lbl,pos=0.55]{\#\$time\_limit\_owner\\+\$active\\\#\$time\_limit\_from\\\#\$time\_limit\_until\\+\$login\_attempts\\+\$last\_password\_change\_ts} (user);
\draw[agg] (int) to[out=-90,in=20] node[lbl,pos=0.5]{+\$parent\_id\\\#\$create\_user\\+\$update\_listener\\\_cnt\\+\$last\_change\_user\\\#\$id\\+\$old\_nr} (page);
\draw[agg] (db) to[out=-95,in=10] node[lbl,pos=0.55]{\#\$db} (page);
\draw[agg] (serv) to[out=-60,in=30] node[lbl,pos=0.55]{-\$irss} (glo);
\draw[agg] (trans) to[out=-90,in=90] node[lbl,pos=0.4]{-\$translations\_repository} ([xshift=0.4pt]obj.north);
\draw[agg] (props) to[out=-110,in=20] node[lbl,pos=0.4]{-\$object\_properties} (obj);
\draw[agg] (aggr) to[out=-110,in=10] node[lbl,pos=0.3]{-\$properties\_aggregator} (obj);
\draw[agg] ([xshift=0.6pt]user.north) -- node[lbl,right,pos=0.6]{\#\$user} ([xshift=0.6pt]obj.south);
\draw[agg] (dff) to[out=-90,in=160] node[lbl,pos=0.3]{\#\$date\_format\_factory} (glo);
\draw[agg] (lang) to[out=-90,in=70] node[lbl,pos=0.5]{\#\$lng} (pcfg);
\draw[agg] (bool) to[out=-50,in=140] node[lbl,pos=0.55]{\#\$flashcards\_active\\\#\$online\\\#\$virtual\\\#\$show\_tax\\\#\$glo\_menu\_active} (glo);
\draw[agg] (lang) to[out=-10,in=170] node[lbl,pos=0.45]{\#\$lng} (obj);
\draw[agg] (objdef) to[out=-80,in=80] node[lbl,pos=0.5]{\#\$obj\_definition} (page);
\draw[agg] (lang) to[out=-120,in=120] node[lbl,pos=0.45]{\#\$lng} (page);
\draw[agg] (pcfg) to[out=-90,in=150] node[lbl,pos=0.45]{\#\$page\_config} (page);
\draw[agg] (ilias) to[out=-60,in=110] node[lbl,pos=0.45]{\#\$reading\_time\_manager\\\#\$dom\_util\\\#\$pc\_service\\\#\$style\_manager\\\#\$page\_manager\\\#\$content\_id\_manager\\\#\$link\\\#\$pc\_definition} (page);
\draw[agg] (domdoc) to[out=-100,in=80] node[lbl,pos=0.7,right]{+\$dom} ([xshift=2.4pt]page.north);
\draw[agg] (domnode) to[out=-90,in=30] node[lbl,pos=0.5,right]{+\$node} (page);
\draw[agg] (object) to[out=-90,in=20] node[lbl,pos=0.5,right]{+\$offline\_handler} (page);
\draw[agg] (user) to[out=-150,in=15] node[lbl,pos=0.4]{\#\$user} (page);
\draw[agg] (lom) to[out=-90,in=120] (glo);
\draw[agg] (lang) to[out=-30,in=170] (glo);
\draw[agg] (user) to[out=-20,in=160] (glo);
\draw[agg] (string) to[out=-90,in=180] (glo);
\end{tikzpicture}
\end{document}
